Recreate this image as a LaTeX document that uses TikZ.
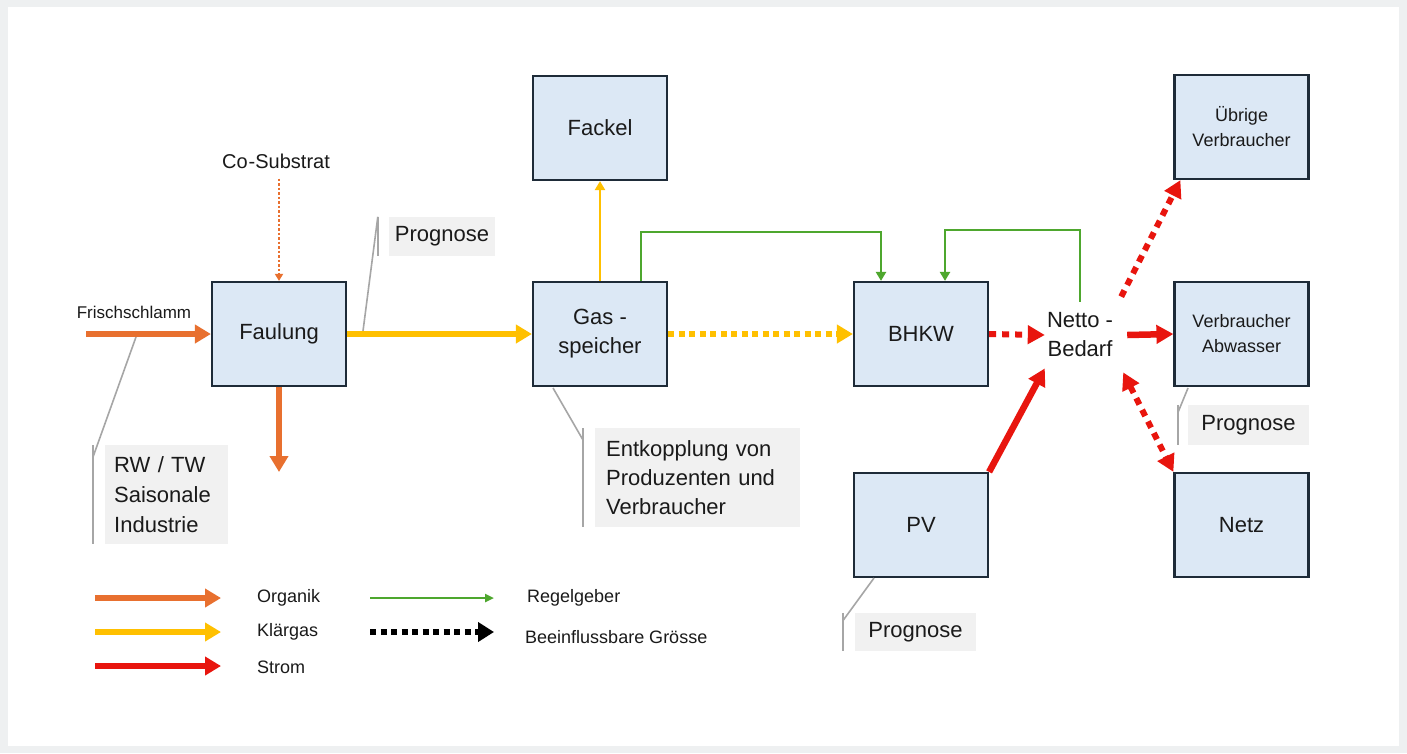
\documentclass[tikz,border=0pt]{standalone}
\usepackage{fontspec}
\setmainfont{Liberation Sans}
\usetikzlibrary{arrows.meta}
\definecolor{bgray}{HTML}{EEF0F1}
\definecolor{boxfill}{HTML}{DCE8F5}
\definecolor{boxline}{HTML}{1E2B38}
\definecolor{corange}{HTML}{E8702F}
\definecolor{cyellow}{HTML}{FFC000}
\definecolor{cred}{HTML}{E8150E}
\definecolor{cgreen}{HTML}{4EA72E}
\definecolor{cfill}{HTML}{F1F1F1}
\definecolor{cgline}{HTML}{A6A6A6}
\definecolor{txt}{HTML}{1A1A1A}
\newcommand{\bigf}{\fontsize{22}{29}\selectfont}
\newcommand{\midf}{\fontsize{18}{25}\selectfont}
\newcommand{\smf}{\fontsize{18}{20}\selectfont}
\begin{document}
\begin{tikzpicture}[x=1pt,y=-1pt,
  every node/.style={text=txt},
  blockbox/.style={draw=boxline, fill=boxfill, line width=2.2pt, minimum width=134pt, minimum height=104pt, inner sep=0pt, outer sep=1.1pt, align=center},
  callout/.style={fill=cfill, inner sep=0pt, align=left, font=\bigf},
  cl/.style={draw=cgline, line width=1.6pt},
  thickarrow/.style={line width=6pt, -{Triangle[length=16pt,width=18pt]}},
  thinarrow/.style={line width=2.5pt, -{Triangle[length=9pt,width=10pt]}},
  bigdots/.style={line width=6pt, dash pattern=on 6pt off 4.5pt},
  reddots/.style={draw=cred, line width=6pt, dash pattern=on 7pt off 6pt},
  redhead/.style={-{Triangle[length=17pt,width=18pt]}},
  lgtext/.style={anchor=west, font=\smf, inner sep=0pt}
]
\fill[bgray] (0,0) rectangle (1407,753);
\fill[white] (8,7) rectangle (1399,746);
\path[use as bounding box] (0,0) rectangle (1407,753);

% blocks
\node[blockbox, font=\bigf] (fackel) at (600,128) {Fackel};
\node[blockbox, font=\bigf] (faul) at (279,334) {Faulung};
\node[blockbox, font=\bigf] (gas) at (600,334) {Gas -\\speicher};
\node[blockbox, font=\bigf] (bhkw) at (921,334) {BHKW};
\node[blockbox, font=\bigf] (pv) at (921,525) {PV};
\node[blockbox, font=\midf] (uebrig) at (1241.5,127) {Übrige\\Verbraucher};
\node[blockbox, font=\midf] (verb) at (1241.5,334) {Verbraucher\\Abwasser};
\node[blockbox, font=\bigf] (netz) at (1241.5,525) {Netz};
\node[font=\bigf, align=center, inner xsep=2pt, inner ysep=11pt] (netto) at (1080,335) {Netto -\\Bedarf};

% labels
\node[font=\fontsize{17}{20}\selectfont, inner sep=0pt] (frischlbl) at (134,312) {Frischschlamm};
\node[font=\fontsize{20}{24}\selectfont, inner xsep=0pt, inner ysep=10pt] (cosub) at (276,161) {Co\kern1pt-Substrat};

% callouts
\node[callout, minimum width=106pt, minimum height=39pt, align=center] (prog1) at (442,236.5) {Prognose};
\node[callout, anchor=north west, text width=105pt, minimum height=99pt, inner xsep=9pt, font=\fontsize{22}{30}\selectfont] (rwtw) at (105,445) {RW / TW\\Saisonale\\Industrie};
\node[callout, anchor=north west, text width=183pt, minimum height=99pt, inner xsep=11pt] (entk) at (595,428) {Entkopplung von\\Produzenten und\\Verbraucher};
\node[callout, minimum width=121pt, minimum height=40pt, align=center] (progV) at (1248.5,425) {Prognose};
\node[callout, minimum width=121pt, minimum height=38pt, align=center] (progPV) at (915.5,632) {Prognose};

% coordinates
\coordinate (fs) at (86,334);
\coordinate (fo) at (279,472);
\coordinate (g1) at (881,232);
\coordinate (g2) at (945,230);
\coordinate (t1) at (363,331);
\coordinate (t2) at (136,337);
\coordinate (t3) at (553,388);
\coordinate (t4) at (1188,388);
\coordinate (t5) at (874,578);

% callout lines
\draw[cl] ([xshift=-11pt]prog1.north west) -- ([xshift=-11pt]prog1.south west);
\draw[cl] ([xshift=-11pt]prog1.north west) -- (t1);
\draw[cl] ([xshift=-12pt]rwtw.north west) -- ([xshift=-12pt]rwtw.south west);
\draw[cl] ([xshift=-12pt,yshift=-12pt]rwtw.north west) -- (t2);
\draw[cl] ([xshift=-12pt]entk.north west) -- ([xshift=-12pt]entk.south west);
\draw[cl] ([xshift=-12pt,yshift=-12pt]entk.north west) -- (t3);
\draw[cl] ([xshift=-10pt]progV.north west) -- ([xshift=-10pt]progV.south west);
\draw[cl] ([xshift=-10pt,yshift=-8pt]progV.north west) -- (t4);
\draw[cl] ([xshift=-12pt]progPV.north west) -- ([xshift=-12pt]progPV.south west);
\draw[cl] ([xshift=-12pt,yshift=-8pt]progPV.north west) -- (t5);

% organic
\draw[thickarrow, draw=corange, fill=corange] (fs) -- (faul.west);
\draw[thickarrow, draw=corange, fill=corange] (faul.south) -- (fo);
\draw[draw=corange, line width=2.5pt, dash pattern=on 2.5pt off 2pt, -{Triangle[length=7pt,width=8pt]}] (cosub.south -| faul.north) -- (faul.north);

% gas
\draw[thickarrow, draw=cyellow] (faul.east) -- (gas.west);
\draw[thinarrow, draw=cyellow] (gas.north) -- (fackel.south);
\draw[bigdots, draw=cyellow, -{Triangle[length=16pt,width=18pt]}] (gas.east) -- (bhkw.west);

% control
\draw[thinarrow, draw=cgreen, line width=2.3pt] ([xshift=41pt]gas.north) |- (g1) -- ([xshift=-40pt]bhkw.north);
\draw[thinarrow, draw=cgreen, line width=2.3pt] (netto.north) |- (g2) -- ([xshift=24pt]bhkw.north);

% power
\draw[reddots, redhead] (bhkw.east) -- (netto.west);
\draw[draw=cred, line width=6.5pt, redhead] (pv.north east) -- (netto.south west);
\draw[draw=cred, line width=6.5pt, redhead] ([xshift=12pt]netto.east) -- (verb.west);
\draw[reddots, redhead] ([xshift=6pt,yshift=5pt]netto.north east) -- ([xshift=7pt]uebrig.south west);
\draw[reddots, {Triangle[length=17pt,width=18pt]}-{Triangle[length=17pt,width=18pt]}] ([xshift=8pt,yshift=-4pt]netto.south east) -- (netz.north west);

% legend
\coordinate (lo1) at (95,598); \coordinate (lo2) at (221,598);
\coordinate (ly1) at (95,632); \coordinate (ly2) at (221,632);
\coordinate (lr1) at (95,666); \coordinate (lr2) at (221,666);
\coordinate (lg1) at (370,598); \coordinate (lg2) at (494,598);
\coordinate (lb1) at (370,632); \coordinate (lb2) at (494,632);
\draw[thickarrow, draw=corange] (lo1) -- (lo2);
\draw[thickarrow, draw=cyellow] (ly1) -- (ly2);
\draw[thickarrow, draw=cred] (lr1) -- (lr2);
\draw[draw=cgreen, line width=2.5pt, -{Triangle[length=9pt,width=8pt]}] (lg1) -- (lg2);
\draw[bigdots, draw=black, -{Triangle[length=16pt,width=19pt]}] (lb1) -- (lb2);
\node[lgtext] (lgo) at (257,598) {Organik};
\node[lgtext] (lgy) at (257,632) {Klärgas};
\node[lgtext] (lgr) at (257,667) {Strom};
\node[lgtext] (lgg) at (527,598) {Regelgeber};
\node[lgtext] (lgb) at (525,637) {Beeinflussbare Grösse};
\end{tikzpicture}
\end{document}
